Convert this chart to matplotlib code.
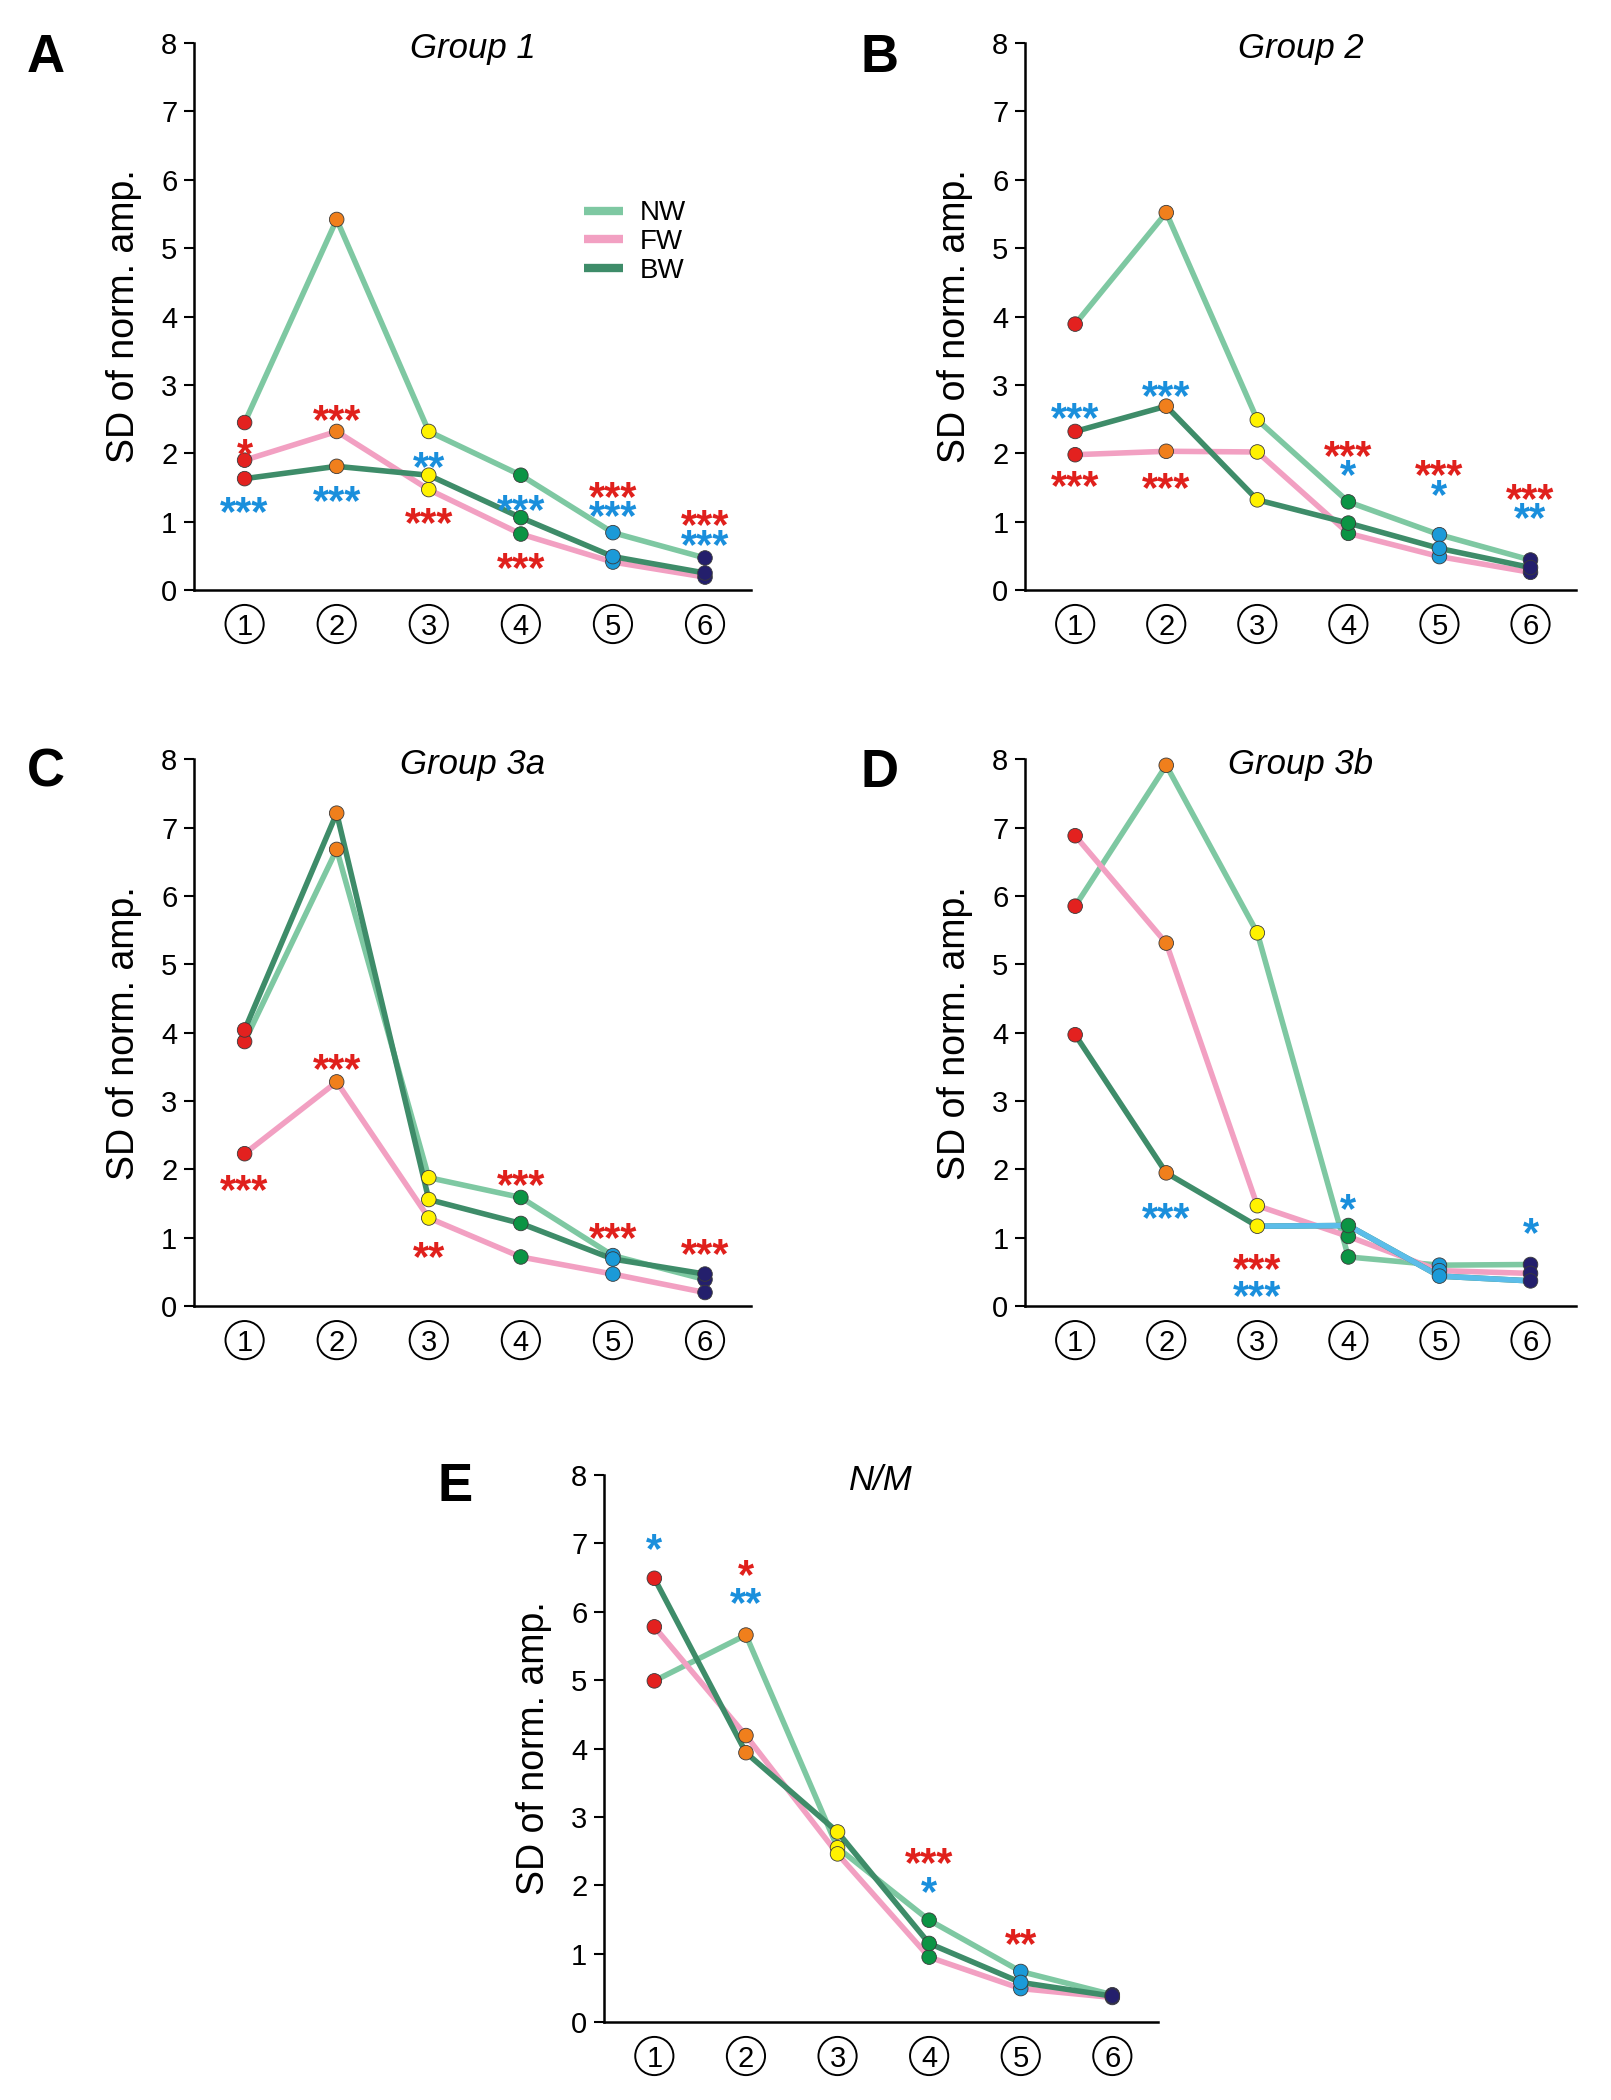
import matplotlib
matplotlib.use("Agg")
import matplotlib.pyplot as plt

plt.rcParams['font.family'] = ['Liberation Sans', 'DejaVu Sans']

# series colours
NW_COL = '#7ec8a2'
FW_COL = '#f2a0c2'
BW_COL = '#3e8c69'
TAIL_COL = '#5cbde9'   # panel D, BW drawn light blue from 3 onwards
STAR_RED = '#e0201c'
STAR_BLUE = '#1a8fdc'
point_colors = ['#e3211f', '#f07f1c', '#fff200', '#0b9444', '#1b9ad8', '#241f6c']

categories = [1, 2, 3, 4, 5, 6]
cat_labels = ['1', '2', '3', '4', '5', '6']   # shown inside circles
yticks = [0, 1, 2, 3, 4, 5, 6, 7, 8]

# ---- data ----
A_nw = [2.45, 5.42, 2.32, 1.68, 0.84, 0.47]
A_fw = [1.90, 2.32, 1.47, 0.82, 0.41, 0.19]
A_bw = [1.63, 1.81, 1.68, 1.06, 0.49, 0.25]

B_nw = [3.89, 5.52, 2.49, 1.29, 0.81, 0.44]
B_fw = [1.98, 2.03, 2.02, 0.83, 0.49, 0.26]
B_bw = [2.32, 2.69, 1.32, 0.98, 0.61, 0.33]

C_nw = [3.87, 6.68, 1.88, 1.59, 0.74, 0.39]
C_fw = [2.23, 3.28, 1.29, 0.72, 0.47, 0.20]
C_bw = [4.04, 7.21, 1.56, 1.21, 0.69, 0.47]

D_nw = [5.85, 7.91, 5.46, 0.72, 0.60, 0.61]
D_fw = [6.88, 5.31, 1.47, 1.02, 0.52, 0.48]
D_bw = [3.97, 1.95, 1.17, 1.18, 0.44, 0.37]

E_nw = [4.99, 5.66, 2.55, 1.49, 0.74, 0.40]
E_fw = [5.78, 4.19, 2.46, 0.95, 0.49, 0.36]
E_bw = [6.49, 3.94, 2.78, 1.15, 0.58, 0.38]

# significance stars: (category, text, colour, height)
A_stars = [(1, '*', STAR_RED, 2.17), (1, '***', STAR_BLUE, 1.32),
           (2, '***', STAR_RED, 2.66), (2, '***', STAR_BLUE, 1.48),
           (3, '**', STAR_BLUE, 1.97), (3, '***', STAR_RED, 1.15),
           (4, '***', STAR_BLUE, 1.35), (4, '***', STAR_RED, 0.50),
           (5, '***', STAR_RED, 1.53), (5, '***', STAR_BLUE, 1.26),
           (6, '***', STAR_RED, 1.12), (6, '***', STAR_BLUE, 0.83)]
B_stars = [(1, '***', STAR_BLUE, 2.69), (1, '***', STAR_RED, 1.70),
           (2, '***', STAR_BLUE, 3.02), (2, '***', STAR_RED, 1.67),
           (4, '***', STAR_RED, 2.14), (4, '*', STAR_BLUE, 1.86),
           (5, '***', STAR_RED, 1.86), (5, '*', STAR_BLUE, 1.56),
           (6, '***', STAR_RED, 1.51), (6, '**', STAR_BLUE, 1.23)]
C_stars = [(1, '***', STAR_RED, 1.87), (2, '***', STAR_RED, 3.64),
           (3, '**', STAR_RED, 0.90), (4, '***', STAR_RED, 1.95),
           (5, '***', STAR_RED, 1.17), (6, '***', STAR_RED, 0.94)]
D_stars = [(2, '***', STAR_BLUE, 1.46), (3, '***', STAR_RED, 0.72),
           (3, '***', STAR_BLUE, 0.33), (4, '*', STAR_BLUE, 1.59),
           (6, '*', STAR_BLUE, 1.24)]
E_stars = [(1, '*', STAR_BLUE, 7.09), (2, '*', STAR_RED, 6.71),
           (2, '**', STAR_BLUE, 6.31), (4, '***', STAR_RED, 2.50),
           (4, '*', STAR_BLUE, 2.07), (5, '**', STAR_RED, 1.32)]

panels = [
    ('A', 'Group 1', A_nw, A_fw, A_bw, A_stars, [0.1204, 0.719, 0.3458, 0.2605], (46, 58)),
    ('B', 'Group 2', B_nw, B_fw, B_bw, B_stars, [0.6363, 0.719, 0.3420, 0.2605], (879, 58)),
    ('C', 'Group 3a', C_nw, C_fw, C_bw, C_stars, [0.1204, 0.378, 0.3458, 0.2605], (46, 773)),
    ('D', 'Group 3b', D_nw, D_fw, D_bw, D_stars, [0.6363, 0.378, 0.3420, 0.2605], (879, 773)),
    ('E', 'N/M', E_nw, E_fw, E_bw, E_stars, [0.3749, 0.0371, 0.3440, 0.2605], (455, 1487)),
]

W, H = 1611, 2100
fig = plt.figure(figsize=(W / 100, H / 100), dpi=100)

LW = 4.0
MS = 10.5
STAR_FS = 30
CIRC_Y = -0.062   # axes fraction below the x axis

for letter, title, nw, fw, bw, stars, rect, lpos in panels:
    ax = fig.add_axes(rect)
    # lines
    ax.plot(categories, nw, color=NW_COL, lw=LW, zorder=2, label='NW', solid_capstyle='round')
    ax.plot(categories, fw, color=FW_COL, lw=LW, zorder=2, label='FW', solid_capstyle='round')
    ax.plot(categories, bw, color=BW_COL, lw=LW, zorder=2, label='BW', solid_capstyle='round')
    if letter == 'D':
        ax.plot(categories[2:], bw[2:], color=TAIL_COL, lw=LW, zorder=2.1)
    # dots
    for series in (nw, fw, bw):
        ax.scatter(categories, series, s=MS ** 2, c=point_colors,
                   edgecolors='#3a3a3a', linewidths=0.6, zorder=3, clip_on=False)
    # stars
    for cat, txt, col, yv in stars:
        ax.annotate(txt, (cat, yv), xytext=(0, -0.60 * STAR_FS), textcoords='offset points',
                    ha='center', va='baseline', color=col, fontsize=STAR_FS,
                    fontweight='bold', zorder=4)

    ax.set_xlim(0.45, 6.5)
    ax.set_ylim(0, 8)
    ax.set_yticks(yticks)
    ax.set_xticks(categories)
    ax.set_xticklabels([])
    ax.tick_params(axis='x', length=0)
    ax.tick_params(axis='y', length=7, width=1.5, labelsize=21, pad=5, direction='out')
    for s in ('top', 'right'):
        ax.spines[s].set_visible(False)
    for s in ('left', 'bottom'):
        ax.spines[s].set_linewidth(1.8)
    ax.set_ylabel('SD of norm. amp.', fontsize=27, labelpad=14)

    # circled category labels under the axis
    xt = ax.get_xaxis_transform()
    ax.scatter(categories, [CIRC_Y] * 6, s=27.5 ** 2, facecolors='none', edgecolors='black',
               linewidths=1.4, transform=xt, clip_on=False, zorder=5)
    for cat, lab in zip(categories, cat_labels):
        ax.text(cat, CIRC_Y, lab, transform=xt, ha='center', va='center_baseline',
                fontsize=21)

    ax.text(0.5, 0.99, title, transform=ax.transAxes, ha='center', va='center',
            fontsize=25, style='italic')
    fig.text(lpos[0] / W, 1 - lpos[1] / H, letter, ha='center', va='center',
             fontsize=38, fontweight='bold')

    if letter == 'A':
        leg = ax.legend(loc='upper left', bbox_to_anchor=(0.655, 0.758), frameon=False,
                        fontsize=20, handlelength=1.4, labelspacing=0.1, handletextpad=0.6)
        for ln in leg.get_lines():
            ln.set_linewidth(6)
            ln.set_solid_capstyle('butt')

fig.savefig('out.png', dpi=100)
